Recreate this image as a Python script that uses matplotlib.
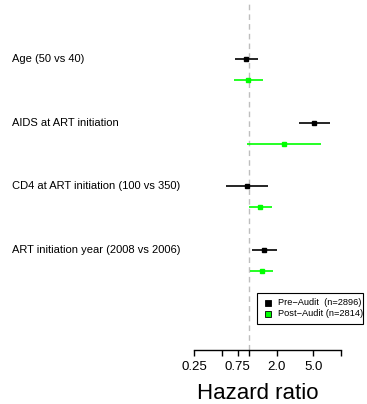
import matplotlib
matplotlib.use("Agg")
import matplotlib.pyplot as plt
from matplotlib.patches import Rectangle
import matplotlib.transforms as mtransforms
import numpy as np

plt.rcParams['font.family'] = ['Liberation Sans', 'DejaVu Sans']

labels = ["Age (50 vs 40)", "AIDS at ART initiation",
          "CD4 at ART initiation (100 vs 350)", "ART initiation year (2008 vs 2006)"]
pre_hr = [0.92, 5.11, 0.94, 1.46]
pre_lo = [0.70, 3.47, 0.556, 1.08]
pre_hi = [1.24, 7.65, 1.61, 2.00]
post_hr = [0.97, 2.38, 1.31, 1.38]
post_lo = [0.685, 0.95, 0.99, 1.02]
post_hi = [1.40, 6.06, 1.76, 1.80]
tick_vals = [0.25, 0.5, 0.75, 1, 2, 5, 10]
tick_labels = ["0.25", "", "0.75", "", "2.0", "5.0", ""]
legend_labels = ["Pre\u2212Audit  (n=2896)", "Post\u2212Audit (n=2814)"]

W, H = 367, 404
fig = plt.figure(figsize=(W/100, H/100), dpi=100)
x0, x1 = 194.3, 340.6
y_top, y_bot = 0, 350
ax = fig.add_axes([x0/W, 1 - y_bot/H, (x1-x0)/W, (y_bot-y_top)/H])
ax.set_xscale('log')
ax.set_xlim(0.25, 10)
ax.set_ylim(4.57, -0.927)

ax.axvline(1, color='#BEBEBE', lw=1, ls=(0, (4, 3)), zorder=0)

n = len(labels)
ypre = np.arange(n)
ypost = ypre + 0.33
ax.hlines(ypre, pre_lo, pre_hi, color='black', lw=1.2, clip_on=False)
ax.plot(pre_hr, ypre, 's', color='black', ms=3, clip_on=False)
ax.hlines(ypost, post_lo, post_hi, color='#00FF00', lw=1.2, clip_on=False)
ax.plot(post_hr, ypost, 's', color='#00FF00', ms=3, clip_on=False)

tr = mtransforms.blended_transform_factory(fig.transFigure, ax.transData)
for i, lab in enumerate(labels):
    ax.text(12/W, ypre[i], lab, transform=tr, ha='left', va='center',
            fontsize=8, clip_on=False)

for s in ['top', 'right', 'left']:
    ax.spines[s].set_visible(False)
ax.spines['bottom'].set_bounds(0.25, 10)
ax.spines['bottom'].set_linewidth(1)
ax.set_yticks([])
ax.xaxis.set_minor_locator(matplotlib.ticker.NullLocator())
ax.set_xticks(tick_vals)
ax.set_xticklabels(tick_labels)
ax.tick_params(axis='x', length=4, width=1, pad=4, labelsize=9.5)

fig.text(258/W, 1 - 399/H, "Hazard ratio", ha='center', va='baseline', fontsize=16)

# legend box
lx0, lx1, ly0, ly1 = 256.7, 362.7, 293.3, 324
fig.patches.append(Rectangle((lx0/W, 1 - ly1/H), (lx1-lx0)/W, (ly1-ly0)/H,
                             transform=fig.transFigure, fill=True, facecolor='white',
                             edgecolor='black', lw=0.8))
for j, (lab, c) in enumerate(zip(legend_labels, ['black', '#00FF00'])):
    yy = 1 - (302.5 + j*11.5)/H
    fig.patches.append(Rectangle((265/W, yy - 3/H), 6/W, 6/H, transform=fig.transFigure,
                                 facecolor=c, edgecolor='black', lw=0.6))
    fig.text(278.5/W, yy, lab, ha='left', va='center', fontsize=6.7)

fig.savefig("out.png", dpi=100)
